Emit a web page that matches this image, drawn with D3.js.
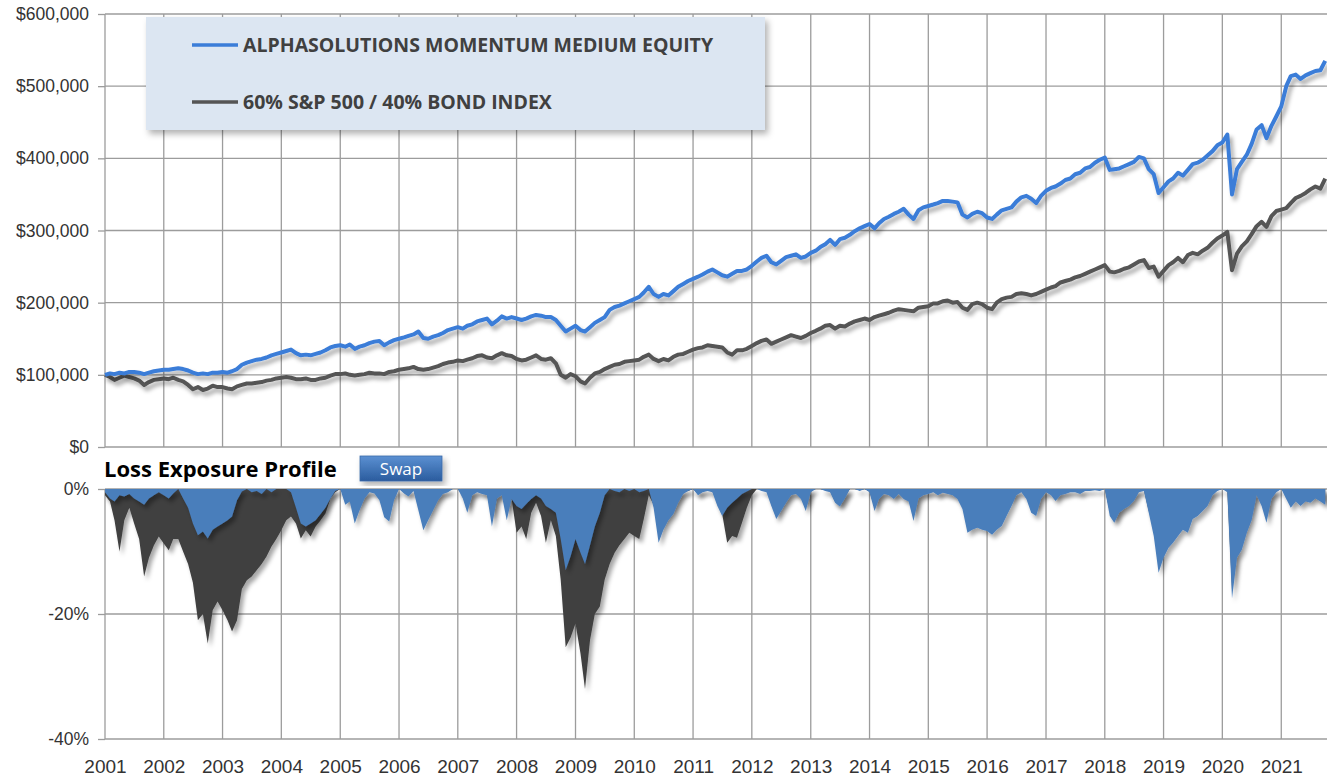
<!DOCTYPE html>
<html>
<head>
<meta charset="utf-8">
<script src="https://cdn.jsdelivr.net/npm/d3@7"></script>
<style>
  body { margin: 0; background: #fff; }
  svg { display: block; font-family: "Open Sans", sans-serif; }
</style>
</head>
<body>
<svg id="chart"></svg>
<script>
// Monthly readings, Jan 2001 -> Oct 2021 (values in $ thousands)
const momentumValue = [
  100, 102, 101, 103, 102, 104, 104, 103, 101, 103, 105, 106, // 2001
  107, 107, 108, 109, 108, 106, 103, 101, 102, 101, 103, 103, // 2002
  104, 103, 105, 108, 114, 117, 119, 121, 122, 124, 127, 129, // 2003
  131, 133, 135, 130, 127, 128, 127, 129, 131, 134, 138, 140, // 2004
  141, 139, 142, 136, 139, 141, 144, 146, 147, 141, 145, 148, // 2005
  150, 152, 154, 156, 160, 151, 150, 153, 155, 158, 162, 164, // 2006
  166, 164, 168, 170, 174, 176, 178, 170, 175, 181, 178, 180, // 2007
  178, 176, 178, 181, 183, 182, 180, 180, 176, 168, 160, 164, // 2008
  168, 162, 160, 166, 172, 176, 180, 190, 194, 196, 199, 202, // 2009
  205, 208, 214, 222, 212, 208, 212, 210, 216, 222, 226, 230, // 2010
  233, 236, 239, 243, 246, 242, 238, 236, 240, 244, 244, 246, // 2011
  251, 257, 262, 265, 256, 253, 258, 263, 265, 267, 262, 264, // 2012
  269, 272, 277, 281, 287, 280, 288, 290, 294, 299, 303, 306, // 2013
  309, 303, 310, 316, 319, 323, 326, 330, 322, 316, 328, 332, // 2014
  334, 336, 338, 341, 341, 340, 339, 322, 318, 323, 326, 324, // 2015
  318, 316, 322, 328, 330, 332, 340, 346, 348, 344, 338, 348, // 2016
  355, 359, 361, 365, 370, 372, 378, 380, 386, 388, 394, 398, // 2017
  401, 384, 385, 386, 389, 392, 395, 402, 400, 385, 378, 352, // 2018
  360, 368, 372, 380, 376, 384, 392, 394, 398, 404, 410, 418, // 2019
  422, 433, 350, 385, 395, 405, 420, 440, 446, 428, 445, 458, // 2020
  472, 500, 514, 516, 510, 515, 518, 521, 522, 535            // 2021
];

const benchmarkValue = [
  100, 97, 93, 96, 99, 97, 95, 92, 86, 90, 93, 94,            // 2001
  95, 94, 96, 93, 91, 86, 80, 83, 79, 81, 85, 83,             // 2002
  83, 81, 80, 84, 86, 88, 88, 89, 90, 92, 93, 95,             // 2003
  96, 97, 96, 94, 94, 95, 93, 93, 95, 96, 99, 101,            // 2004
  101, 102, 100, 99, 100, 101, 103, 102, 102, 101, 104, 105,  // 2005
  107, 108, 109, 111, 108, 107, 108, 110, 112, 115, 117, 118, // 2006
  120, 119, 121, 123, 126, 127, 124, 123, 127, 130, 127, 126, // 2007
  122, 120, 121, 124, 127, 122, 121, 123, 116, 100, 96, 101,  // 2008
  98, 91, 88, 96, 102, 104, 108, 111, 114, 115, 118, 119,     // 2009
  120, 121, 125, 128, 122, 119, 122, 120, 125, 128, 129, 132, // 2010
  135, 137, 138, 141, 140, 139, 138, 131, 128, 134, 134, 136, // 2011
  140, 144, 147, 149, 143, 146, 149, 152, 155, 153, 151, 154, // 2012
  158, 161, 164, 168, 169, 164, 168, 167, 171, 174, 176, 178, // 2013
  176, 180, 182, 184, 186, 189, 191, 190, 189, 188, 193, 194, // 2014
  195, 199, 199, 202, 203, 200, 201, 193, 190, 198, 200, 198, // 2015
  193, 191, 200, 205, 207, 208, 212, 213, 212, 210, 212, 215, // 2016
  218, 221, 223, 228, 230, 232, 235, 237, 240, 243, 246, 249, // 2017
  252, 243, 242, 244, 247, 249, 253, 257, 259, 248, 250, 236, // 2018
  244, 252, 256, 262, 256, 266, 269, 267, 272, 276, 283, 289, // 2019
  293, 298, 245, 268, 278, 285, 295, 306, 312, 305, 320, 327, // 2020
  329, 331, 338, 345, 348, 352, 357, 361, 358, 372            // 2021
];

// Loss from previous high, in %
const momentumLoss = [
  -0.5, -1.5, -2, -1, -1.2, -0.8, -1.5, -2, -2.5, -1.5, -1, -0.5,   // 2001
  -1, -1.5, -0.7, 0, -1.5, -3, -5.5, -7.4, -6.8, -7.9, -6.5, -6,    // 2002
  -5.5, -5, -4.4, -1.8, -0.4, 0, -0.5, -0.3, -0.8, 0, -0.5, 0,      // 2003
  0, 0, -0.5, -3, -5.5, -6, -5.5, -5, -4, -3, -1.5, -0.3,           // 2004
  0, -2.5, -2, -5.5, -3.4, -1.5, -0.5, -0.7, -1.8, -4.5, -5.2, -1.8, // 2005
  0, -0.7, -1.2, -0.3, -3.4, -6.6, -5, -3.4, -1.8, -0.8, -0.5, 0,   // 2006
  0, -1.5, -3.8, -1, -0.5, -0.8, -1, -6, -1.5, -1, -5, -1.6,        // 2007
  -2.7, -3.2, -2.4, -1.6, -1, -1.5, -2.7, -3.2, -3.8, -8, -13, -10.8, // 2008
  -8, -10.2, -12, -9, -6, -3.8, -1, 0, -0.3, -0.5, 0, -0.3,         // 2009
  0, -0.5, -0.3, 0, -3, -8.6, -6.5, -5, -4, -2.2, -0.8, -0.3,       // 2010
  0, -1, -0.5, -0.3, -0.5, -2.7, -4.3, -3, -2.2, -1.5, -0.8, -0.4,  // 2011
  0, 0, -0.3, -0.5, -2.7, -4.8, -3.5, -2.2, -1, -0.8, -1.6, -3.5,   // 2012
  -0.5, 0, 0, -0.3, -0.5, -2.2, -2.8, -1.5, 0, 0, -0.3, 0,          // 2013
  -0.5, -3.5, -1.6, -0.8, -1, -1.6, -0.8, -1.6, -2, -5.1, -1.5, -1, // 2014
  -0.8, -0.5, -1, -0.6, -0.8, -1, -1.6, -3.2, -7, -6.5, -6.2, -6.5, // 2015
  -6.7, -7.3, -6.5, -5.9, -4.3, -2.7, -1, -0.5, -1.6, -3.8, -4.3, -1.6, // 2016
  -0.5, -1, -1.9, -1, -0.8, -0.5, -0.5, -0.8, -0.3, -0.3, -0.2, -0.3, // 2017
  0, -4.3, -5.4, -3.8, -3.2, -2.7, -1.9, -0.5, -0.3, -3.8, -7.5, -13.4, // 2018
  -11, -9.4, -8.6, -7.5, -6.5, -7, -4.8, -4.3, -3.5, -2.7, -1, -0.3, // 2019
  0, -0.5, -17.5, -11, -9.7, -7, -5, -1, -2.7, -5.4, -1.6, -0.5,    // 2020
  0, -1.6, -3, -2, -2.7, -2, -2.2, -1.5, -2, -2.5                   // 2021
];

const benchmarkLoss = [
  -1, -2, -5, -10, -5, -3, -5.5, -8, -14, -11, -9, -7.6,            // 2001
  -8.7, -9.8, -8, -8, -10, -12, -15, -21, -20, -24.7, -19.4, -18,   // 2002
  -19.4, -21, -22.8, -21, -16, -14.6, -14, -13, -12, -10.8, -9.2, -8, // 2003
  -6.6, -5, -4.4, -5.5, -7.9, -6.6, -7.6, -6, -5, -3.9, -1.5, -0.5, // 2004
  0, -1.5, -1.5, -3, -2, -1, -0.3, -0.5, -1, -2.5, -1.5, -0.5,      // 2005
  0, -0.5, -0.5, -0.2, -2.5, -4, -3.5, -2, -1, -0.5, -0.3, 0,       // 2006
  0, -1, -3, -0.8, -0.3, -0.5, -0.8, -4.5, -1.5, -0.5, -3.5, -1.5,  // 2007
  -7, -6, -8, -3.8, -2.2, -4.3, -8.6, -5, -7.5, -14.5, -25.3, -23.8, // 2008
  -21.5, -26.3, -32, -24.2, -20, -18.8, -14.5, -12, -10.2, -9, -8, -7, // 2009
  -7.5, -8, -4.8, -1, -2.5, -6, -5, -4, -3, -1.5, -0.5, -0.3,       // 2010
  0, -0.8, -0.4, -0.2, -0.4, -2, -4, -8.6, -7.5, -7.8, -5.4, -3,    // 2011
  -1, 0, 0, -0.3, -2, -4, -2.5, -1.5, -0.5, -0.5, -1.2, -2.5,       // 2012
  -0.3, 0, 0, -0.2, -0.3, -2, -2.5, -1.2, 0, 0, -0.2, 0,            // 2013
  -0.4, -3, -1.2, -0.5, -0.6, -1.2, -0.5, -1.2, -1.6, -4, -1, -0.6, // 2014
  -0.5, -0.3, -0.8, -0.4, -0.5, -0.8, -1.2, -2.5, -6, -5, -3, -4,   // 2015
  -5, -6, -3, -2, -1.5, -1.5, -0.5, -0.3, -1, -2.5, -3, -1,         // 2016
  -0.3, -0.6, -1.2, -0.6, -0.5, -0.3, -0.3, -0.5, -0.2, -0.2, -0.1, -0.2, // 2017
  0, -3.6, -5, -3.5, -2.5, -2, -1, -0.3, -0.2, -3.5, -6, -9.5,      // 2018
  -7, -5, -3.5, -2.5, -4, -3, -1.5, -2.5, -2, -1.5, -0.5, -0.2,     // 2019
  0, -0.3, -16, -9, -7, -5, -3, -0.8, -2, -4, -1, -0.3,             // 2020
  0, -1, -1.5, -1, -1.5, -1, -1.2, -0.8, -1.5, -2                   // 2021
];

const seriesNames = ["ALPHASOLUTIONS MOMENTUM MEDIUM EQUITY", "60% S&P 500 / 40% BOND INDEX"];
const yearLabels = d3.range(2001, 2022);
const valueTicks = [0, 100, 200, 300, 400, 500, 600];
const lossTicks = [-40, -20, 0];

const blue = "#3b7dd8", grey = "#555555";
const areaBlue = "#4a7ebb", areaGrey = "#404040";
const gridColor = "#9c9c9c";

const width = 1327, height = 779;
const left = 105, right = 1327;

const svg = d3.select("#chart").attr("width", width).attr("height", height);

// drop shadows
const defs = svg.append("defs");
defs.append("filter").attr("id", "shadow")
    .attr("x", "-5%").attr("y", "-5%").attr("width", "115%").attr("height", "125%")
    .append("feDropShadow")
    .attr("dx", 3).attr("dy", 4).attr("stdDeviation", 2.2)
    .attr("flood-color", "#000").attr("flood-opacity", 0.35);
defs.append("filter").attr("id", "boxShadow")
    .attr("x", "-5%").attr("y", "-10%").attr("width", "115%").attr("height", "130%")
    .append("feDropShadow")
    .attr("dx", 3).attr("dy", 4).attr("stdDeviation", 3)
    .attr("flood-color", "#000").attr("flood-opacity", 0.3);
const grad = defs.append("linearGradient").attr("id", "btn").attr("x1", 0).attr("y1", 0).attr("x2", 0).attr("y2", 1);
grad.append("stop").attr("offset", "0%").attr("stop-color", "#5b90d2");
grad.append("stop").attr("offset", "100%").attr("stop-color", "#2b5c9e");

const start = new Date(Date.UTC(2001, 0, 1));
const months = momentumValue.map((d, i) => d3.utcMonth.offset(start, i));
const years = yearLabels.map(y => new Date(Date.UTC(y, 0, 1)));

const x = d3.scaleUtc()
    .domain([start, new Date(Date.UTC(2021, 9, 12))])
    .range([left, right]);
const yValue = d3.scaleLinear().domain([0, 600]).range([447, 14]);
const yLoss = d3.scaleLinear().domain([-40, 0]).range([739, 489]);

// grid lines
const grid = svg.append("g").attr("stroke", gridColor).attr("stroke-width", 1.3);
grid.selectAll(".vt").data(years).join("line")
    .attr("x1", d => x(d)).attr("x2", d => x(d))
    .attr("y1", yValue(600)).attr("y2", yValue(0));
grid.selectAll(".vb").data(years).join("line")
    .attr("x1", d => x(d)).attr("x2", d => x(d))
    .attr("y1", yLoss(0)).attr("y2", yLoss(-40));
grid.selectAll(".ht").data(valueTicks).join("line")
    .attr("x1", left).attr("x2", right)
    .attr("y1", d => yValue(d)).attr("y2", d => yValue(d));
grid.selectAll(".hb").data(lossTicks).join("line")
    .attr("x1", left).attr("x2", right)
    .attr("y1", d => yLoss(d)).attr("y2", d => yLoss(d));

// axes
function styleAxis(g, size) {
    g.select(".domain").remove();
    g.selectAll(".tick line").attr("stroke", gridColor).attr("stroke-width", 1.3);
    g.selectAll("text").attr("fill", "#333").style("font-size", size + "px");
}
svg.append("g")
   .attr("transform", `translate(${left},0)`)
   .call(d3.axisLeft(yValue).tickValues(valueTicks).tickSize(7).tickPadding(9)
        .tickFormat(d => d3.format("$,")(d * 1000)))
   .call(g => styleAxis(g, 17.5));
svg.append("g")
   .attr("transform", `translate(${left},0)`)
   .call(d3.axisLeft(yLoss).tickValues(lossTicks).tickSize(7).tickPadding(9)
        .tickFormat(d => d + "%"))
   .call(g => styleAxis(g, 17.5));
svg.append("g")
   .attr("transform", `translate(0,${yLoss(-40)})`)
   .call(d3.axisBottom(x).tickValues(years).tickSize(0).tickPadding(21)
        .tickFormat(d3.utcFormat("%Y")))
   .call(g => styleAxis(g, 19));

// loss exposure areas (benchmark behind, strategy on top)
const area = d3.area()
    .x((d, i) => x(months[i]))
    .y0(yLoss(0))
    .y1(d => yLoss(d));
svg.append("path").datum(benchmarkLoss)
   .attr("d", area).attr("fill", areaGrey).attr("filter", "url(#shadow)");
svg.append("path").datum(momentumLoss)
   .attr("d", area).attr("fill", areaBlue).attr("filter", "url(#shadow)");

// value lines
const line = d3.line()
    .x((d, i) => x(months[i]))
    .y(d => yValue(d));
svg.append("path").datum(benchmarkValue)
   .attr("d", line).attr("fill", "none").attr("stroke", grey)
   .attr("stroke-width", 4).attr("stroke-linejoin", "round")
   .attr("filter", "url(#shadow)");
svg.append("path").datum(momentumValue)
   .attr("d", line).attr("fill", "none").attr("stroke", blue)
   .attr("stroke-width", 4).attr("stroke-linejoin", "round")
   .attr("filter", "url(#shadow)");

// legend
const legend = svg.append("g");
legend.append("rect")
      .attr("x", 146).attr("y", 17).attr("width", 619).attr("height", 113)
      .attr("fill", "#dce6f2").attr("filter", "url(#boxShadow)");
const items = legend.selectAll(".item").data(seriesNames).join("g")
      .attr("transform", (d, i) => `translate(192,${45 + i * 57})`);
items.append("line")
     .attr("x1", 0).attr("x2", 46)
     .attr("stroke", (d, i) => i === 0 ? blue : grey)
     .attr("stroke-width", 3.5);
items.append("text")
     .attr("x", 51).attr("y", 7)
     .attr("fill", "#404040")
     .style("font-size", "19.5px").style("font-weight", "bold")
     .text(d => d);

// panel title and button
svg.append("text")
   .attr("x", 104).attr("y", 477)
   .style("font-size", "22px").style("font-weight", "bold")
   .attr("fill", "#000")
   .text("Loss Exposure Profile");
const button = svg.append("g");
button.append("rect")
      .attr("x", 360).attr("y", 456).attr("width", 82).attr("height", 25)
      .attr("fill", "url(#btn)").attr("stroke", "#3a6aa8").attr("stroke-width", 0.8)
      .attr("filter", "url(#boxShadow)");
button.append("text")
      .attr("x", 401).attr("y", 475)
      .attr("text-anchor", "middle")
      .attr("fill", "#fff")
      .style("font-size", "17px")
      .text("Swap");
</script>
</body>
</html>
